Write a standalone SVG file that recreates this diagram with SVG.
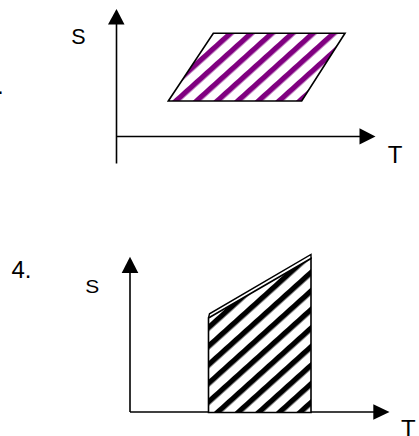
<svg xmlns="http://www.w3.org/2000/svg" width="419" height="436" viewBox="0 0 419 436">
<style>
  .axis { stroke: #000; stroke-width: 1.6; fill: none; }
  .head { fill: #000; stroke: none; }
  .lbl { font-family: "Liberation Sans", Arial, sans-serif; fill: #000; }
  .outline { stroke: #000; stroke-width: 1.6; stroke-linejoin: miter; }
  .purple { fill: url(#purpleStripes); }
  .black { fill: url(#blackStripes); }
</style>
<defs>
  <pattern id="purpleStripes" patternUnits="userSpaceOnUse" width="13.8" height="13.8" patternTransform="translate(172 101) rotate(48)">
    <rect x="0" y="0" width="13.8" height="13.8" fill="#fff"/>
    <rect x="0" y="0" width="5.4" height="13.8" fill="#800080"/>
  </pattern>
  <pattern id="blackStripes" patternUnits="userSpaceOnUse" width="13.8" height="13.8" patternTransform="translate(214 412) rotate(48)">
    <rect x="0" y="0" width="13.8" height="13.8" fill="#fff"/>
    <rect x="0" y="0" width="5.4" height="13.8" fill="#000"/>
  </pattern>
</defs>
<rect width="419" height="436" fill="#fff"/>

<g id="chart3">
  <text class="lbl" x="-3" y="94" font-size="24">.</text>
  <g id="chart3-axes">
    <line class="axis" x1="116.5" y1="163.5" x2="116.5" y2="22"/>
    <polygon class="head" points="116.5,9 108,24.5 124.5,24.5"/>
    <line class="axis" x1="116.5" y1="136.5" x2="361" y2="136.5"/>
    <polygon class="head" points="375.5,136.5 359.5,128.3 359.5,144.5"/>
  </g>
  <g id="chart3-region">
    <polygon class="outline purple" points="213.3,33.3 345,33.3 301.7,101 168.3,101"/>
  </g>
  <text class="lbl" x="71.3" y="44.3" font-size="21.5">S</text>
  <text class="lbl" x="387.8" y="162.7" font-size="24">T</text>
</g>

<g id="chart4">
  <text class="lbl" x="11.5" y="277.7" font-size="24">4.</text>
  <g id="chart4-axes">
    <line class="axis" x1="130" y1="412" x2="130" y2="270"/>
    <polygon class="head" points="130,256.7 121.7,273 138.3,273"/>
    <line class="axis" x1="130" y1="412" x2="375" y2="412"/>
    <polygon class="head" points="389.5,412 373.3,404.2 373.3,419.8"/>
  </g>
  <g id="chart4-region">
    <polygon class="outline black" points="208.5,318 311,258.5 311,412.5 208.5,412.5"/>
    <polyline points="208.5,318 209.5,313.8 311,254.5 311,259" fill="none" stroke="#000" stroke-width="1.4"/>
  </g>
  <text class="lbl" transform="translate(85.2 293.4) scale(1.2 1)" font-size="17.5">S</text>
  <text class="lbl" x="401" y="437" font-size="24">T</text>
</g>
</svg>
